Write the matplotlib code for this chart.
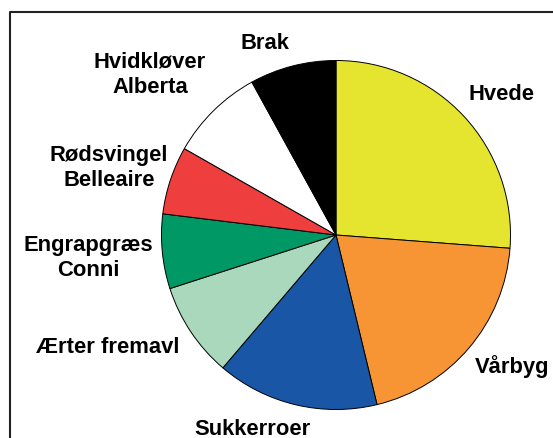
import matplotlib
matplotlib.use("Agg")
import matplotlib.pyplot as plt
from matplotlib.lines import Line2D

# crop shares (percent), clockwise from 12 o'clock
labels = ['Hvede', 'Vårbyg', 'Sukkerroer', 'Ærter fremavl', 'Engrapgræs\nConni',
          'Rødsvingel\nBelleaire', 'Hvidkløver\nAlberta', 'Brak']
shares = [26.2, 20.0, 15.0, 8.8, 6.9, 6.3, 8.75, 8.0]
colors = ['#E5E530', '#F79535', '#1A56A6', '#A9D8BC', '#009966',
          '#EE3E3E', '#FFFFFF', '#000000']

# label spots in pixels (x, y from top)
label_xy = [(502, 95), (512, 367), (252, 430), (108, 348), (88, 258),
            (109, 168), (150, 75), (265, 43)]

W, H = 553, 439
fig = plt.figure(figsize=(W / 100, H / 100), dpi=100)
ax = fig.add_axes([0, 0, 1, 1])

ax.pie(shares, colors=colors, startangle=90, counterclock=False,
       center=(336, H - 236), radius=174.5,
       wedgeprops=dict(edgecolor='black', linewidth=0.7))

for lab, (x, y) in zip(labels, label_xy):
    ax.text(x, H - y, lab, ha='center', va='center', multialignment='center',
            fontsize=15.8, fontweight='bold', family='Liberation Sans',
            linespacing=1.3)

ax.set_xlim(0, W)
ax.set_ylim(0, H)
ax.set_aspect('equal')
ax.axis('off')

# frame (left and top edges visible)
ax.add_line(Line2D([10, 10, W], [0, H - 13, H - 13], color='#222222', lw=1.5))

fig.savefig('out.png', dpi=100)
